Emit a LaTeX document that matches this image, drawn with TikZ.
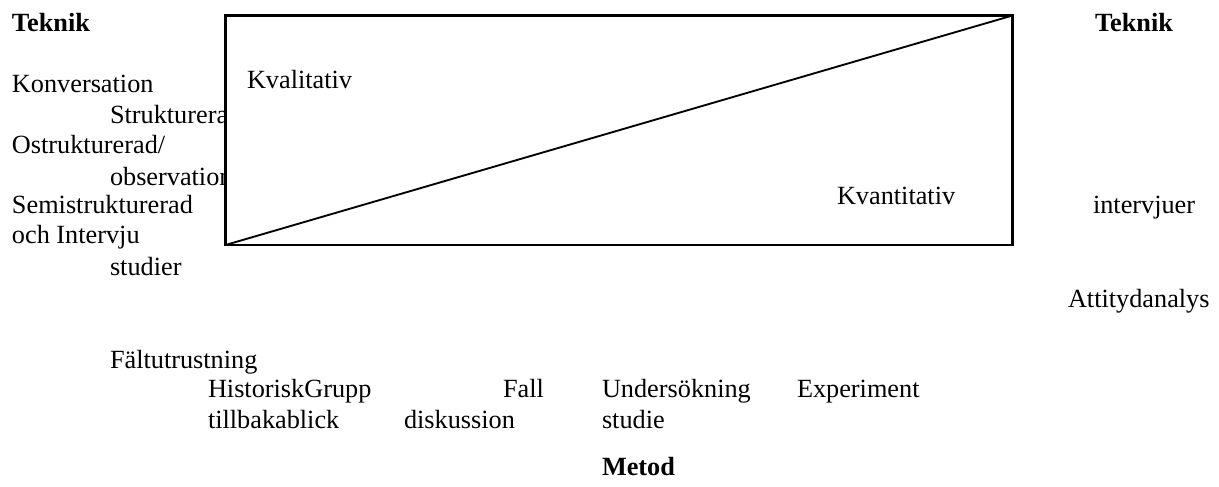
\documentclass[tikz,border=0pt]{standalone}
\usepackage{fontspec}
\setmainfont{Liberation Serif}
\tikzset{
  lbl/.style={anchor=base west, inner sep=0pt, outer sep=0pt,
              font=\fontsize{19.7}{23}\selectfont},
  hdr/.style={lbl, font=\fontsize{19.7}{23}\selectfont\bfseries},
  frame/.style={draw=black, line width=2pt, fill=white},
  split/.style={draw=black, line width=1.4pt}
}
\begin{document}
\begin{tikzpicture}[x=0.75pt, y=-0.75pt]
\useasboundingbox (0,0) rectangle (1219,486);

% left column: techniques
\node[hdr] (teknikL) at (12,31) {Teknik};
\node[lbl] (konv) at (12,92) {Konversation};
\node[lbl] (strukt) at (110,123) {Strukturerad};
\node[lbl] (ostrukt) at (12,153) {Ostrukturerad/};
\node[lbl] (obs) at (110,185) {observation};
\node[lbl] (semi) at (12,213) {Semistrukturerad};
\node[lbl] (och) at (12,243) {och Intervju};
\node[lbl] (stud) at (110,275) {studier};
\node[lbl] (falt) at (110,368) {Fältutrustning};

% bottom row: methods
\node[lbl] (hist) at (208,397) {HistoriskGrupp};
\node[lbl] (tillb) at (208,428) {tillbakablick};
\node[lbl] (disk) at (404,428) {diskussion};
\node[lbl] (fall) at (503,397) {Fall};
\node[lbl] (unders) at (602,397) {Undersökning};
\node[lbl] (studie) at (602,428) {studie};
\node[lbl] (exper) at (797,397) {Experiment};
\node[hdr] (metod) at (602,475) {Metod};

% right column: techniques
\node[hdr] (teknikR) at (1095,31) {Teknik};
\node[lbl] (interv) at (1093,213) {intervjuer};
\node[lbl] (attityd) at (1068,307) {Attitydanalys};

% qualitative / quantitative box with its diagonal
\coordinate (bl) at (225.5,245);
\coordinate (tr) at (1012.5,15.5);
\path[frame] (bl) rectangle (tr);
\draw[split] (bl) -- (tr);
\node[lbl] (kval) at (247,88) {Kvalitativ};
\node[lbl] (kvant) at (837,204) {Kvantitativ};
\end{tikzpicture}
\end{document}
